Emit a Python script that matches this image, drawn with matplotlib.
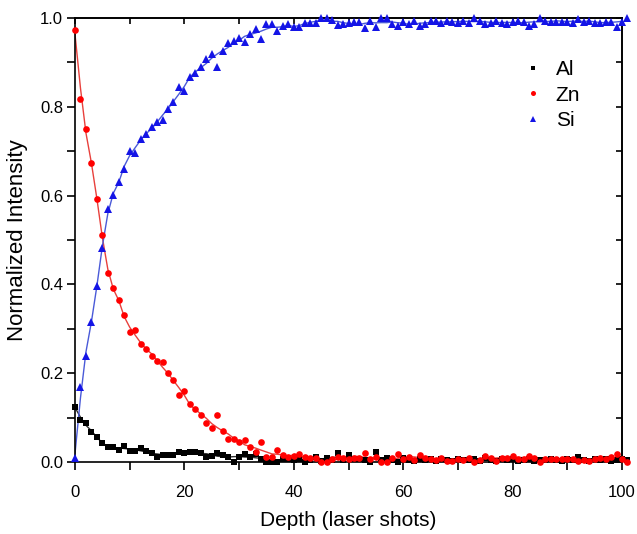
#!/usr/bin/env python3

import matplotlib

matplotlib.use("Agg")
import matplotlib.pyplot as plt
import numpy as np
from matplotlib.ticker import MultipleLocator


DEPTH = np.arange(102)

AL = [
    0.125, 0.095, 0.087, 0.068, 0.057, 0.043, 0.033, 0.033, 0.027, 0.036,
    0.025, 0.025, 0.031, 0.025, 0.020, 0.012, 0.016, 0.016, 0.016, 0.022,
    0.020, 0.023, 0.022, 0.020, 0.012, 0.013, 0.021, 0.016, 0.011, 0.000,
    0.011, 0.018, 0.011, 0.017, 0.007, 0.000, 0.000, 0.000, 0.007, 0.007,
    0.005, 0.007, 0.000, 0.005, 0.011, 0.002, 0.010, 0.005, 0.020, 0.005,
    0.016, 0.007, 0.007, 0.005, 0.000, 0.023, 0.005, 0.010, 0.005, 0.000,
    0.010, 0.005, 0.003, 0.007, 0.004, 0.006, 0.003, 0.006, 0.004, 0.003,
    0.007, 0.005, 0.004, 0.006, 0.003, 0.008, 0.005, 0.003, 0.006, 0.004,
    0.007, 0.002, 0.005, 0.006, 0.003, 0.005, 0.004, 0.007, 0.005, 0.003,
    0.006, 0.004, 0.012, 0.005, 0.003, 0.006, 0.004, 0.007, 0.003, 0.005,
    0.006, 0.005,
]

ZN = [
    0.974, 0.818, 0.750, 0.673, 0.593, 0.511, 0.425, 0.393, 0.365, 0.331,
    0.293, 0.297, 0.266, 0.255, 0.239, 0.228, 0.225, 0.201, 0.184, 0.152,
    0.160, 0.131, 0.120, 0.106, 0.088, 0.077, 0.106, 0.070, 0.051, 0.051,
    0.045, 0.049, 0.033, 0.023, 0.044, 0.011, 0.012, 0.026, 0.016, 0.011,
    0.013, 0.018, 0.011, 0.009, 0.010, 0.000, 0.000, 0.007, 0.012, 0.010,
    0.007, 0.010, 0.010, 0.021, 0.007, 0.012, 0.000, 0.000, 0.010, 0.018,
    0.007, 0.012, 0.005, 0.016, 0.010, 0.007, 0.005, 0.008, 0.003, 0.003,
    0.007, 0.005, 0.008, 0.000, 0.005, 0.013, 0.010, 0.003, 0.010, 0.010,
    0.014, 0.007, 0.007, 0.014, 0.010, 0.000, 0.007, 0.007, 0.007, 0.007,
    0.007, 0.007, 0.003, 0.005, 0.003, 0.007, 0.010, 0.007, 0.011, 0.017,
    0.007, 0.000,
]

SI = [
    0.008, 0.169, 0.239, 0.316, 0.396, 0.481, 0.569, 0.601, 0.630, 0.661,
    0.701, 0.697, 0.728, 0.739, 0.755, 0.766, 0.770, 0.794, 0.811, 0.844,
    0.836, 0.866, 0.877, 0.890, 0.908, 0.920, 0.890, 0.926, 0.944, 0.949,
    0.954, 0.946, 0.965, 0.975, 0.953, 0.986, 0.986, 0.971, 0.982, 0.986,
    0.979, 0.980, 0.989, 0.989, 0.988, 1.000, 1.000, 0.995, 0.984, 0.986,
    0.989, 0.990, 0.990, 0.978, 0.993, 0.979, 0.999, 0.999, 0.986, 0.982,
    0.990, 0.986, 0.993, 0.982, 0.986, 0.993, 0.993, 0.988, 0.994, 0.992,
    0.988, 0.994, 0.988, 1.000, 0.994, 0.986, 0.988, 0.994, 0.989, 0.986,
    0.992, 0.994, 0.992, 0.982, 0.986, 1.000, 0.994, 0.992, 0.992, 0.992,
    0.992, 0.989, 0.998, 0.992, 0.994, 0.989, 0.989, 0.992, 0.992, 0.980,
    0.992, 1.000,
]

SERIES = [
    # label, values, marker, marker colour, line colour, marker size
    ("Al", AL, "s", "#000000", "#303030", 4.0),
    ("Zn", ZN, "o", "#ff0000", "#e8403c", 4.8),
    ("Si", SI, "^", "#1414e6", "#4a5ad8", 5.4),
]


def smooth(values, order=2):
    # local polynomial smoothing; narrow window on the steep start,
    # wider one on the flat tail
    values = np.asarray(values, dtype=float)
    n = len(values)
    x = np.arange(n)
    out = np.empty(n)
    for i in range(n):
        half = 2 if i < 10 else 5
        width = 2 * half + 1
        lo = min(max(i - half, 0), n - width)
        sel = slice(lo, lo + width)
        coef = np.polyfit(x[sel], values[sel], order)
        out[i] = np.polyval(coef, i)
    return out


def main():
    plt.rcParams["font.family"] = ["Liberation Sans", "DejaVu Sans"]

    fig = plt.figure(figsize=(6.37, 5.34), dpi=100)
    ax = fig.add_axes([75 / 637, 72 / 534, 547 / 637, 444 / 534])

    for label, values, marker, mcolor, lcolor, size in SERIES:
        ax.plot(DEPTH, smooth(values), color=lcolor, linewidth=1.0, zorder=2)
        ax.plot(
            DEPTH,
            values,
            linestyle="none",
            marker=marker,
            markersize=size,
            color=mcolor,
            markeredgewidth=0,
            label=label,
            clip_on=False,
            zorder=3,
        )

    ax.set_xlim(0, 100)
    ax.set_ylim(0, 1.0)
    ax.xaxis.set_major_locator(MultipleLocator(20))
    ax.xaxis.set_minor_locator(MultipleLocator(10))
    ax.yaxis.set_major_locator(MultipleLocator(0.2))
    ax.yaxis.set_minor_locator(MultipleLocator(0.1))
    ax.yaxis.set_major_formatter(lambda v, _: f"{v:.1f}")

    ax.tick_params(
        which="both", direction="out", length=5.5, width=1.2,
        labelsize=12, top=False, right=False,
    )
    ax.tick_params(axis="x", pad=11)
    ax.tick_params(axis="y", pad=3)
    for spine in ax.spines.values():
        spine.set_linewidth(1.2)

    top = ax.secondary_xaxis("top")
    top.xaxis.set_major_locator(MultipleLocator(20))
    top.xaxis.set_minor_locator(MultipleLocator(10))
    top.tick_params(which="both", direction="in", length=4.5, width=1.2,
                    labeltop=False, labelbottom=False)
    right = ax.secondary_yaxis("right")
    right.yaxis.set_major_locator(MultipleLocator(0.2))
    right.yaxis.set_minor_locator(MultipleLocator(0.1))
    right.tick_params(which="both", direction="in", length=4.5, width=1.2,
                      labelright=False, labelleft=False)
    top.spines["top"].set_linewidth(1.2)
    right.spines["right"].set_linewidth(1.2)

    ax.set_xlabel("Depth (laser shots)", fontsize=15, labelpad=8)
    ax.set_ylabel("Normalized Intensity", fontsize=16, labelpad=9)

    ax.legend(
        loc="upper left",
        bbox_to_anchor=((512 - 75) / 547, (462 - 52) / 444),
        frameon=False,
        fontsize=15,
        markerscale=0.75,
        handlelength=1.2,
        handletextpad=0.5,
        labelspacing=0.3,
        borderaxespad=0,
    )

    fig.savefig("out.png", dpi=100)
    plt.close(fig)


if __name__ == "__main__":
    main()
